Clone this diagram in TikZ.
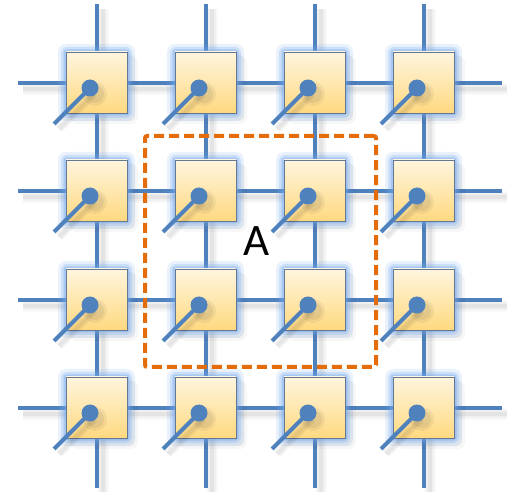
\documentclass[tikz,border=0pt]{standalone}
\usepackage{fontspec}
\setmainfont{Carlito}
\definecolor{linecol}{RGB}{79,129,189}
\definecolor{glowcol}{RGB}{110,165,235}
\definecolor{celltop}{RGB}{255,245,222}
\definecolor{cellbot}{RGB}{255,217,128}
\definecolor{cellborder}{RGB}{100,120,145}
\definecolor{regioncol}{RGB}{228,108,10}
\tikzset{
  gridline/.style={draw=linecol, line width=4pt},
  shadowa/.style={draw=black, line width=12pt, opacity=0.025},
  shadowb/.style={draw=black, line width=8pt, opacity=0.035},
  shadowc/.style={draw=black, line width=4pt, opacity=0.05},
  cell/.style={minimum size=61pt, inner sep=0pt, draw=cellborder, line width=0.7pt, top color=celltop, bottom color=cellbot},
  dotnode/.style={circle, fill=linecol, minimum size=17pt, inner sep=0pt},
  region/.style={draw=regioncol, line width=4pt, dash pattern=on 10pt off 5pt, rounded corners=2pt, minimum width=231pt, minimum height=231pt, inner sep=0pt},
}
\begin{document}
\begin{tikzpicture}[x=1pt,y=-1pt]
\useasboundingbox (0,0) rectangle (507,492);
% coordinates for grid line ends
\foreach \i/\v in {1/83,2/191,3/300,4/408}{
  \coordinate (hl\i) at (18,\v);
  \coordinate (hr\i) at (502,\v);
}
\foreach \j/\u in {1/97,2/206,3/315,4/424}{
  \coordinate (vt\j) at (\u,4);
  \coordinate (vb\j) at (\u,488);
}
% shadows of grid lines
\foreach \i in {1,...,4}{
  \foreach \s in {shadowa,shadowb,shadowc}{
    \draw[\s] ([shift={(5,6)}]hl\i) -- ([shift={(5,6)}]hr\i);
    \draw[\s] ([shift={(6,5)}]vt\i) -- ([shift={(6,5)}]vb\i);
  }
}
% grid lines
\foreach \i in {1,...,4}{
  \draw[gridline] (hl\i) -- (hr\i);
  \draw[gridline] (vt\i) -- (vb\i);
}
% cells
\foreach \i/\v in {1/83,2/191,3/300,4/408}{
  \foreach \j/\u in {1/97,2/206,3/315,4/424}{
    % shadow
    \fill[black, opacity=0.03, rounded corners=7pt] (\u-27,\v-27) rectangle (\u+41,\v+41);
    \fill[black, opacity=0.04, rounded corners=4pt] (\u-28,\v-28) rectangle (\u+38,\v+38);
    % glow
    \fill[glowcol, opacity=0.15, rounded corners=8pt] (\u-39,\v-39) rectangle (\u+38,\v+38);
    \fill[glowcol, opacity=0.25, rounded corners=6pt] (\u-36,\v-36) rectangle (\u+35,\v+35);
    \fill[glowcol, opacity=0.4, rounded corners=3pt] (\u-33.5,\v-33.5) rectangle (\u+32.5,\v+32.5);
    \node[cell] (c\i\j) at (\u-0.5,\v-0.5) {};
    \coordinate (s\i\j) at (\u-43,\v+41);
    % dot and stub shadows
    \draw[black, opacity=0.05, line width=8pt] (\u-3,\v+11) -- (\u-38,\v+46);
    \draw[black, opacity=0.05, line width=4pt] (\u-3,\v+11) -- (\u-38,\v+46);
    \fill[black, opacity=0.05] (\u-2,\v+11) circle (12pt);
    \fill[black, opacity=0.06] (\u-2,\v+11) circle (9pt);
    \node[dotnode] (d\i\j) at (\u-7,\v+5) {};
    \draw[linecol, line width=4pt] (d\i\j.center) -- (s\i\j);
  }
}
% region
\node[region] (reg) at (260.5,251.5) {};
\node[font=\fontsize{45}{45}\selectfont, inner sep=0pt] (lab) at (257,241) {A};
\end{tikzpicture}
\end{document}
